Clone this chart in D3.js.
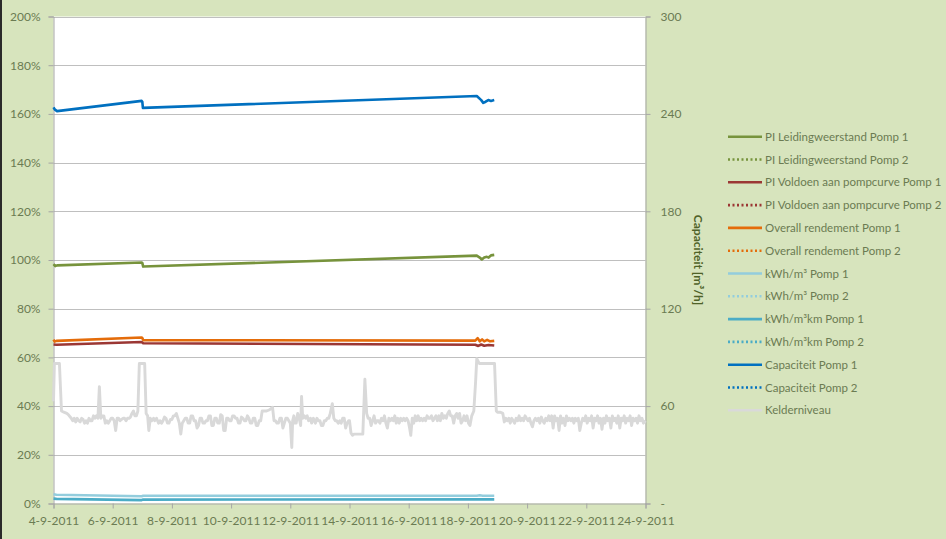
<!DOCTYPE html>
<html>
<head>
<meta charset="utf-8">
<script src="https://cdn.jsdelivr.net/npm/d3@7"></script>
<style>
  html, body { margin: 0; padding: 0; background: #d7e4bd; }
  svg { display: block; }
  text { font-family: Lato, "Liberation Sans", sans-serif; }
</style>
</head>
<body>
<svg id="chart" width="946" height="539"></svg>
<script>
// Time is given as day-of-September 2011 (fractional days).
const xTickLabels = ["4-9-2011","6-9-2011","8-9-2011","10-9-2011","12-9-2011","14-9-2011","16-9-2011","18-9-2011","20-9-2011","22-9-2011","24-9-2011"];
const leftTicks = [0, 0.2, 0.4, 0.6, 0.8, 1.0, 1.2, 1.4, 1.6, 1.8, 2.0];
const rightTicks = [0, 60, 120, 180, 240, 300];
const rightAxisTitle = "Capaciteit [m³/h]";

// Percent series (left axis)
const piLeidingP1 = [[4.0,98.3],[4.06,97.5],[4.12,97.8],[6.98,99.0],[7.0,98.8],[7.03,97.3],[18.3,101.8],[18.4,101.0],[18.47,100.2],[18.55,101.0],[18.64,101.3],[18.7,101.0],[18.78,101.9],[18.89,102.1]];
const piLeidingP2 = [];
const piVoldoenP1 = [[4.0,65.3],[4.1,65.2],[6.98,66.3],[7.03,65.8],[18.25,65.2],[18.35,64.7],[18.45,65.3],[18.55,64.8],[18.7,65.1],[18.89,64.9]];
const piVoldoenP2 = [];
const rendementP1 = [[4.0,67.3],[4.04,66.5],[4.1,66.8],[6.98,68.2],[7.0,68.0],[7.03,67.1],[18.25,66.9],[18.33,67.9],[18.4,66.6],[18.48,67.4],[18.55,66.6],[18.65,67.2],[18.75,66.6],[18.89,66.8]];
const rendementP2 = [];
const kwhM3P1 = [[4.0,3.8],[4.1,3.6],[6.98,3.0],[7.03,3.2],[18.3,3.2],[18.4,3.4],[18.5,3.2],[18.89,3.2]];
const kwhM3P2 = [];
const kwhM3kmP1 = [[4.0,2.0],[4.1,1.9],[6.98,1.4],[7.03,1.6],[18.89,1.7]];
const kwhM3kmP2 = [];
// Capacity series (right axis, m³/h)
const capaciteitP1 = [[4.0,244],[4.05,242.6],[4.12,241.7],[6.98,248],[7.0,247.5],[7.02,243.7],[18.3,251],[18.45,248.5],[18.52,246.8],[18.6,247.5],[18.69,248.5],[18.78,248],[18.89,248.5]];
const capaciteitP2 = [];
// Basin level (left axis, %)
const kelderniveau = [
[4.0,42],[4.03,57.5],[4.1,57.5],[4.2,57.5],[4.27,38],[4.35,37.5],[4.45,37],[4.5,36.5],[4.6,35],[4.65,34],[4.7,35],[4.75,33.5],[4.8,35],[4.85,34],[4.9,33.5],[4.95,35],[5.0,34.5],[5.05,33],[5.1,34],[5.15,33],[5.2,35],[5.25,34],[5.3,34],[5.35,36],[5.4,35],[5.45,36],[5.5,35],[5.55,48],[5.6,35],[5.65,36],[5.7,36],[5.75,33],[5.8,34],[5.85,33],[5.9,34],[5.95,35],[6.0,35],[6.05,34],[6.1,30],[6.15,35],[6.2,35],[6.25,34],[6.3,34.5],[6.35,35],[6.4,35],[6.45,34],[6.5,35],[6.55,35],[6.6,35.5],[6.65,37],[6.7,38],[6.75,36],[6.8,36],[6.85,38],[6.9,57.5],[7.0,57.5],[7.08,57.5],[7.13,37],[7.18,36],[7.22,30],[7.27,35],[7.32,34],[7.38,35],[7.42,34],[7.48,35],[7.55,33],[7.6,34],[7.65,33],[7.7,34],[7.75,35.5],[7.8,35],[7.85,33],[7.9,33],[7.95,34.5],[8.0,34.5],[8.05,36],[8.1,36],[8.15,37],[8.2,35],[8.25,33],[8.3,28.5],[8.35,33],[8.4,34],[8.45,35],[8.5,35],[8.55,33],[8.6,33],[8.65,36],[8.7,36],[8.75,34],[8.8,34],[8.85,31],[8.9,32],[8.95,35],[9.0,35],[9.05,33],[9.1,33],[9.15,34],[9.2,34],[9.25,36],[9.3,36],[9.35,32],[9.4,32],[9.45,35],[9.5,35],[9.55,33],[9.6,33],[9.65,36.5],[9.7,36],[9.75,30],[9.8,30],[9.85,35],[9.9,35],[9.95,34],[10.0,34],[10.05,36],[10.1,36],[10.15,35],[10.2,35],[10.25,33],[10.3,33],[10.35,35.5],[10.4,35],[10.45,34],[10.5,34],[10.55,36],[10.6,35],[10.65,33],[10.7,33],[10.75,35],[10.8,35],[10.85,32],[10.9,32],[10.95,34],[11.0,34],[11.05,38],[11.2,38],[11.3,38.5],[11.4,39.5],[11.45,34],[11.5,34],[11.55,33],[11.6,33],[11.65,35],[11.7,35],[11.75,31],[11.8,33],[11.85,35],[11.9,35],[11.95,34],[12.0,33],[12.05,23],[12.08,34],[12.12,36],[12.16,33],[12.2,33],[12.25,37],[12.3,35],[12.35,32],[12.38,44],[12.42,35],[12.47,36],[12.52,35],[12.57,36],[12.62,34],[12.68,35],[12.72,33],[12.78,35],[12.85,33],[12.9,35],[12.95,34],[13.0,34],[13.05,32],[13.1,32],[13.15,34],[13.2,34],[13.25,35],[13.3,35],[13.35,37],[13.42,41],[13.47,35],[13.52,34],[13.57,34],[13.62,33],[13.67,34],[13.72,33],[13.77,35],[13.82,35],[13.87,31],[13.92,33],[13.97,34],[14.0,34],[14.05,29],[14.1,28],[14.15,28.5],[14.3,28.5],[14.45,28.5],[14.52,51],[14.58,37],[14.63,35],[14.68,35],[14.73,32],[14.78,34],[14.83,36],[14.88,33],[14.93,34],[14.98,34],[15.03,33],[15.08,35],[15.13,34],[15.18,36],[15.23,33],[15.28,31],[15.33,35],[15.38,34],[15.43,35],[15.48,34],[15.53,36],[15.58,33],[15.63,35],[15.68,33],[15.73,35],[15.78,34],[15.83,35],[15.88,34],[15.93,35],[15.98,34],[16.03,31],[16.07,28],[16.12,35],[16.17,33],[16.22,36],[16.27,34],[16.32,36],[16.37,34],[16.42,35],[16.47,34],[16.52,35],[16.57,34],[16.62,36],[16.67,35],[16.72,35],[16.77,36],[16.82,34],[16.87,35],[16.92,36],[16.97,34],[17.02,36],[17.07,34],[17.12,37],[17.17,35],[17.22,36],[17.27,35],[17.32,37],[17.37,38],[17.42,36],[17.47,36],[17.52,33],[17.57,36],[17.62,37],[17.67,35],[17.72,37],[17.77,33],[17.82,34],[17.87,36],[17.92,34],[17.97,36],[18.02,33],[18.07,32],[18.13,36],[18.2,38],[18.26,50],[18.3,59.5],[18.38,57.5],[18.5,57.5],[18.7,57.5],[18.9,57.5],[18.96,38],[19.0,37.5],[19.1,37.5],[19.18,37],[19.23,33.5],[19.28,35],[19.33,34],[19.38,35],[19.43,33],[19.48,35],[19.53,34],[19.58,33],[19.63,35],[19.68,34],[19.73,36],[19.78,34],[19.83,35],[19.88,34],[19.93,36],[19.98,35],[20.03,34],[20.08,35],[20.13,33],[20.18,31.5],[20.23,34],[20.28,35],[20.33,34],[20.38,35],[20.43,33],[20.48,35.5],[20.53,34],[20.58,33],[20.63,35],[20.68,34],[20.73,36],[20.78,34],[20.83,36],[20.88,31],[20.93,36],[20.98,34],[21.03,35],[21.08,30],[21.13,36],[21.18,33],[21.23,35],[21.28,32],[21.33,36],[21.38,34],[21.43,35],[21.48,34],[21.53,35],[21.58,33],[21.63,35],[21.68,34],[21.73,35],[21.78,30],[21.83,33],[21.88,35],[21.93,34],[21.98,36],[22.03,33],[22.08,35],[22.13,34],[22.18,36],[22.23,31],[22.28,35],[22.33,34],[22.38,36],[22.43,33],[22.48,35],[22.53,30.5],[22.58,35],[22.63,33],[22.68,36],[22.73,34],[22.78,35],[22.83,31],[22.88,36],[22.93,34],[22.98,35],[23.03,33],[23.08,36],[23.13,31],[23.18,35],[23.23,34],[23.28,36],[23.33,33],[23.38,35],[23.43,34],[23.48,36],[23.53,32],[23.58,35],[23.63,34],[23.68,35],[23.73,33],[23.78,36],[23.83,34],[23.88,35],[23.93,33],[24.0,34]
];

const series = [
  { name: "PI Leidingweerstand Pomp 1", data: piLeidingP1, color: "#77933c", dash: null, axis: "left" },
  { name: "PI Leidingweerstand Pomp 2", data: piLeidingP2, color: "#77933c", dash: "2,2", axis: "left" },
  { name: "PI Voldoen aan pompcurve Pomp 1", data: piVoldoenP1, color: "#9b3734", dash: null, axis: "left" },
  { name: "PI Voldoen aan pompcurve Pomp 2", data: piVoldoenP2, color: "#9b3734", dash: "2,2", axis: "left" },
  { name: "Overall rendement  Pomp 1", data: rendementP1, color: "#e46c0a", dash: null, axis: "left" },
  { name: "Overall rendement  Pomp 2", data: rendementP2, color: "#e46c0a", dash: "2,2", axis: "left" },
  { name: "kWh/m³ Pomp 1", data: kwhM3P1, color: "#93cddd", dash: null, axis: "left" },
  { name: "kWh/m³ Pomp 2", data: kwhM3P2, color: "#93cddd", dash: "2,2", axis: "left" },
  { name: "kWh/m³km Pomp 1", data: kwhM3kmP1, color: "#4bacc6", dash: null, axis: "left" },
  { name: "kWh/m³km Pomp 2", data: kwhM3kmP2, color: "#4bacc6", dash: "2,2", axis: "left" },
  { name: "Capaciteit Pomp 1", data: capaciteitP1, color: "#0070c0", dash: null, axis: "right" },
  { name: "Capaciteit Pomp 2", data: capaciteitP2, color: "#0070c0", dash: "2,2", axis: "right" },
  { name: "Kelderniveau", data: kelderniveau, color: "#d9d9d9", dash: null, axis: "left" }
];

const svg = d3.select("#chart");
const W = 946, H = 539;
const plot = { left: 53.5, right: 645.5, top: 16.5, bottom: 503.5 };
const textColor = "#6b7b52";

const dayToDate = d => new Date(Date.UTC(2011, 8, 1) + (d - 1) * 864e5);
const parseLabel = d3.utcParse("%d-%m-%Y");

const x = d3.scaleUtc()
  .domain([parseLabel(xTickLabels[0]), parseLabel(xTickLabels[xTickLabels.length - 1])])
  .range([plot.left, plot.right]);
const yL = d3.scaleLinear().domain([0, 2]).range([plot.bottom, plot.top]);
const yR = d3.scaleLinear().domain([0, 300]).range([plot.bottom, plot.top]);

// background + left edge shadow
svg.append("rect").attr("width", W).attr("height", H).attr("fill", "#d7e4bd");
svg.append("rect").attr("width", 2).attr("height", H).attr("fill", "#2a2a2a");

// plot area
svg.append("rect")
  .attr("x", plot.left).attr("y", plot.top)
  .attr("width", plot.right - plot.left).attr("height", plot.bottom - plot.top)
  .attr("fill", "#ffffff");

// horizontal gridlines
svg.append("g").selectAll("line").data(leftTicks.slice(1)).join("line")
  .attr("x1", plot.left).attr("x2", plot.right)
  .attr("y1", d => Math.round(yL(d)) + 0.5).attr("y2", d => Math.round(yL(d)) + 0.5)
  .attr("stroke", "#bfbfbf").attr("stroke-width", 1.2);

// left axis
const axL = svg.append("g").attr("transform", `translate(${plot.left},0)`)
  .call(d3.axisLeft(yL).tickValues(leftTicks).tickFormat(d3.format(".0%")).tickSize(5).tickPadding(8));
// right axis
const axR = svg.append("g").attr("transform", `translate(${plot.right},0)`)
  .call(d3.axisRight(yR).tickValues(rightTicks).tickFormat(d => d === 0 ? "-" : d).tickSize(5).tickPadding(10));
// bottom axis
const axB = svg.append("g").attr("transform", `translate(0,${plot.bottom})`)
  .call(d3.axisBottom(x).tickValues(xTickLabels.map(parseLabel)).tickFormat(d3.utcFormat("%-d-%-m-%Y")).tickSize(5).tickPadding(8));

[axL, axR, axB].forEach(a => {
  a.select(".domain").attr("stroke", "#a6a6a6");
  a.selectAll(".tick line").attr("stroke", "#a6a6a6");
  a.selectAll("text").attr("fill", textColor).style("font-size", "12px").style("font-family", "Lato, 'Liberation Sans', sans-serif");
});
axR.selectAll("text").attr("text-anchor", "start");

// right axis title
svg.append("text")
  .attr("transform", `translate(694,${(plot.top + plot.bottom) / 2}) rotate(90)`)
  .attr("text-anchor", "middle")
  .attr("fill", "#4f6228")
  .style("font-size", "12px").style("font-weight", "bold")
  .text(rightAxisTitle);

// series lines
const lineFor = s => d3.line()
  .x(d => x(dayToDate(d[0])))
  .y(d => s.axis === "right" ? yR(d[1]) : yL(d[1] / 100));

const gLines = svg.append("g");
series.filter(s => s.data.length).forEach(s => {
  gLines.append("path")
    .datum(s.data)
    .attr("d", lineFor(s))
    .attr("fill", "none")
    .attr("stroke", s.color)
    .attr("stroke-width", s.name === "Kelderniveau" ? 2.9 : 2.6)
    .attr("stroke-linejoin", "round")
    .attr("stroke-dasharray", s.dash);
});

// legend
const lg = svg.append("g");
const row = lg.selectAll("g").data(series).join("g")
  .attr("transform", (d, i) => `translate(0,${136.7 + i * 22.8})`);
row.append("line")
  .attr("x1", 728).attr("x2", 762).attr("y1", 0).attr("y2", 0)
  .attr("stroke", d => d.color).attr("stroke-width", 2.6)
  .attr("stroke-dasharray", d => d.dash ? "2,2.5" : null);
row.append("text")
  .attr("x", 765).attr("y", 0).attr("dy", "0.35em")
  .attr("fill", textColor)
  .style("font-size", "11.5px")
  .text(d => d.name);
</script>
</body>
</html>
